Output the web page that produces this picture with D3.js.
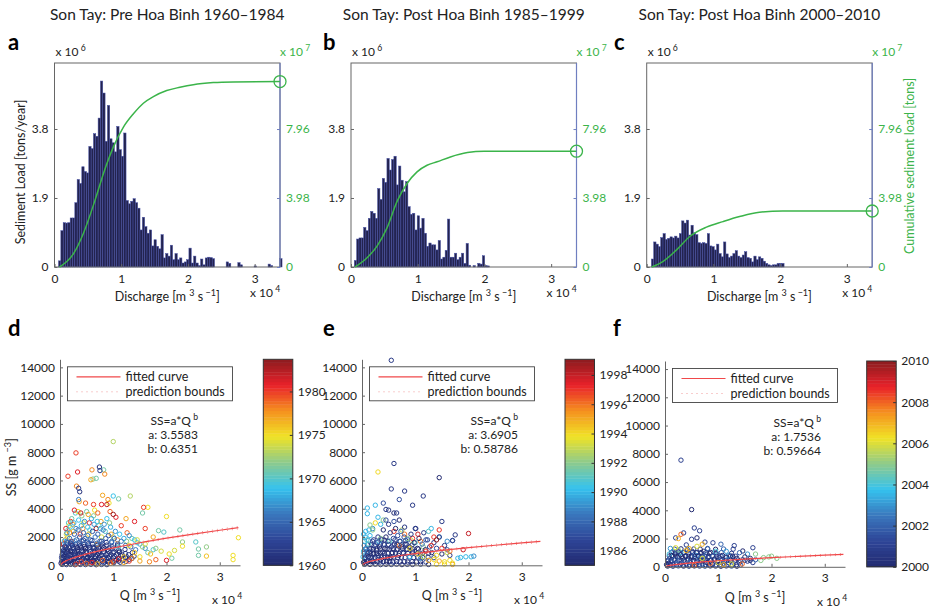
<!DOCTYPE html>
<html>
<head>
<meta charset="utf-8">
<script src="https://cdn.jsdelivr.net/npm/d3@7"></script>
<style>
  body { margin: 0; background: #fff; }
  svg text { font-family: Lato, "Liberation Sans", sans-serif; fill: #222; }
</style>
</head>
<body>
<svg id="chart" width="930" height="611"></svg>
<script>
// ---------- top row: sediment load histograms (x 10^6 tons/year) ----------
const histA = [0.17, 1.0, 1.22, 1.21, 1.22, 1.35, 1.35, 1.77, 2.41, 2.30, 2.76, 2.63, 2.59, 3.32, 3.26, 3.67, 3.6, 4.1, 5.12, 4.79,
  3.46, 4.45, 3.53, 3.42, 3.17, 3.87, 3.23, 3.05, 3.69, 1.83, 1.74, 1.81, 1.88, 1.77, 1.62, 1.02, 1.37, 1.11, 0.93, 1.02,
  0.58, 0.75, 0.57, 0.5, 0.89, 0.25, 0.37, 0.3, 0.6, 0.2, 0.37, 0.2, 0.25, 0.11, 0.14, 0.2, 0.52, 0.11, 0.3, 0.11,
  0.04, 0.22, 0.06, 0.25, 0.27, 0.26, 0.23, 0, 0, 0, 0, 0, 0.14, 0.1, 0, 0, 0, 0.12, 0.06, 0,
  0, 0, 0, 0, 0.03, 0, 0, 0, 0, 0, 0.08, 0.04, 0, 0, 0, 0.23];
const histB = [0.18, 0.77, 0.80, 0.80, 1.09, 1.00, 1.34, 1.53, 1.48, 1.34, 2.16, 1.86, 2.44, 2.33, 2.99, 2.67, 2.96, 3.05, 2.26, 2.78,
  2.39, 2.07, 2.35, 1.66, 1.45, 1.48, 1.02, 1.41, 1.07, 1.34, 0.93, 0.57, 0.66, 0.61, 0.61, 0.47, 0.73, 0.22, 0.27, 0.46,
  1.32, 0.27, 0.27, 0.38, 0.20, 0.27, 0.38, 0.10, 0.65, 0.05, 0, 0.04, 0, 0.10, 0.08, 0.31, 0.04, 0.03];
const histC = [0.22, 0.69, 0.63, 0.56, 0.81, 0.92, 0.76, 0.79, 0.83, 0.80, 0.85, 0.80, 0.92, 1.27, 1.21, 1.29, 0.88, 1.15, 0.94, 0.89,
  0.67, 0.65, 0.67, 0.65, 0.92, 0.58, 0.56, 0.47, 0.63, 0.37, 0.28, 0.69, 0.36, 0.26, 0.30, 0.37, 0.45, 0.30, 0.26, 0.33,
  0.42, 0.26, 0.24, 0.14, 0.30, 0.20, 0.28, 0.24, 0.16, 0.10, 0.06, 0.04, 0.06, 0.06, 0.10, 0.10, 0.10];
const binStarts = [603, 498, 700];   // m3/s
const binWidth = 349;

// cumulative sediment load [Q m3/s, x 10^7 tons]
const cumA = [[750, 0], [2850, 0.77], [4340, 1.95], [6090, 3.87], [7340, 5.40], [8830, 6.93], [10330, 8.07], [11830, 8.84],
  [13320, 9.45], [14820, 9.83], [16820, 10.18], [18800, 10.37], [20800, 10.52], [23800, 10.64], [26800, 10.68], [33800, 10.70]];
const cumB = [[600, 0], [2370, 0.52], [3880, 1.19], [5380, 2.24], [6890, 3.77], [8400, 4.82], [9900, 5.49], [11400, 5.87],
  [12900, 6.07], [14900, 6.35], [17450, 6.60], [19960, 6.68], [33800, 6.68]];
const cumC = [[750, 0], [2480, 0.33], [4480, 0.99], [6460, 1.76], [8950, 2.30], [11430, 2.62], [13930, 2.91], [16900, 3.16],
  [20400, 3.23], [33700, 3.23]];

const topTitles = ["Son Tay: Pre Hoa Binh 1960\u20131984", "Son Tay: Post Hoa Binh 1985\u20131999", "Son Tay: Post Hoa Binh 2000\u20132010"];
const topLetters = ["a", "b", "c"];
const loadTicks = [0, 1.9, 3.8];
const cumTicks = [0, 3.98, 7.96];
const qTicks = [0, 10000, 20000, 30000];

// ---------- bottom row: SS vs Q scatter [Q m3/s, SS g/m3, year] ----------
// dense low part of each cloud
const coreD = [
  [350, 270, 1961], [850, 280, 1961], [1350, 260, 1960], [1900, 290, 1962], [2600, 250, 1961], [3300, 280, 1960], [4000, 270, 1960],
  [4800, 290, 1962], [5600, 260, 1961], [6400, 280, 1961], [7200, 270, 1960], [8000, 290, 1962], [8900, 260, 1961], [9900, 280, 1960],
  [11000, 300, 1960], [12400, 270, 1962],
  [550, 500, 1960], [1050, 480, 1962], [1650, 510, 1961], [2250, 490, 1961], [2900, 500, 1960], [3600, 520, 1962], [4300, 480, 1961],
  [5000, 510, 1960], [5800, 490, 1960], [6600, 500, 1962], [7400, 520, 1961], [8200, 480, 1961], [9100, 500, 1960], [10000, 520, 1962],
  [11100, 490, 1961], [12300, 510, 1960], [13500, 480, 1962],
  [400, 740, 1961], [950, 760, 1960], [1500, 720, 1962], [2100, 750, 1961], [2700, 730, 1960], [3300, 760, 1961], [4000, 740, 1962],
  [4700, 720, 1960], [5500, 750, 1961], [6200, 740, 1961], [7000, 760, 1962], [7800, 730, 1960], [8700, 750, 1961], [9600, 740, 1961],
  [10600, 760, 1962], [11700, 730, 1960], [12900, 750, 1961],
  [800, 980, 1962], [1400, 1000, 1960], [2000, 960, 1961], [2700, 990, 1961], [3400, 970, 1960], [4100, 1000, 1962], [4900, 980, 1961],
  [5700, 960, 1960], [6500, 1000, 1960], [7300, 980, 1962], [8200, 970, 1961], [9100, 990, 1961], [10100, 960, 1960], [11200, 1000, 1962],
  [500, 1230, 1961], [1100, 1250, 1961], [1800, 1220, 1960], [2500, 1260, 1962], [3200, 1230, 1960], [4000, 1250, 1961], [4800, 1220, 1960],
  [5600, 1260, 1961], [6400, 1240, 1962], [7300, 1220, 1961], [8200, 1250, 1960], [9200, 1230, 1962],
  [700, 1500, 1962], [1400, 1480, 1962], [2100, 1520, 1963], [2900, 1490, 1961], [3700, 1510, 1962], [4500, 1480, 1963], [5300, 1530, 1962],
  [6100, 1500, 1961], [7000, 1490, 1961], [7900, 1520, 1963],
  [400, 60, 1961], [1200, 50, 1962], [2000, 70, 1960], [2800, 40, 1961], [3800, 60, 1961], [4800, 50, 1962], [5800, 70, 1960],
  [6800, 40, 1961], [7800, 60, 1962], [8800, 50, 1961]
];
const scatterD = [
  [1500, 2500, 1971], [1600, 3000, 1970], [1400, 2000, 1972], [2200, 3300, 1971], [2900, 3700, 1970], [4100, 3500, 1972],
  [5000, 3800, 1971], [5600, 2500, 1970], [6300, 3500, 1972], [7300, 2800, 1971], [8500, 2400, 1970], [9300, 3000, 1972],
  [10000, 2000, 1971], [12500, 1700, 1972], [13500, 1900, 1971], [14500, 1600, 1970], [1200, 2200, 1975], [1700, 2800, 1974],
  [2500, 2400, 1976], [3400, 3800, 1975], [4400, 3000, 1974], [5400, 2200, 1976], [6500, 3900, 1975], [7800, 2000, 1974],
  [9200, 4400, 1975], [1000, 1800, 1977], [1800, 2300, 1978], [2400, 2900, 1977], [3600, 4500, 1977], [4300, 2600, 1978],
  [5300, 3600, 1977], [7000, 1500, 1978], [7700, 3100, 1977], [9600, 2200, 1977], [10800, 1800, 1978], [12400, 3300, 1977],
  [600, 1500, 1980], [1100, 2600, 1981], [2000, 3100, 1980], [2700, 3900, 1981], [3800, 2200, 1980], [4800, 4400, 1979],
  [5500, 3000, 1981], [6300, 4300, 1980], [7100, 3700, 1979], [7800, 4300, 1981], [9400, 3800, 1979], [10500, 3400, 1981],
  [11500, 2800, 1980], [12600, 2300, 1979], [14000, 3100, 1981], [16000, 2600, 1980], [2100, 1700, 1983], [3900, 3700, 1982],
  [6800, 2600, 1983], [8800, 4300, 1982], [10000, 3600, 1983], [800, 1700, 1968], [1300, 2300, 1967], [1900, 2700, 1969],
  [2600, 3000, 1968], [3000, 2600, 1967], [3500, 3200, 1969], [4000, 2800, 1968], [4600, 3100, 1967], [5200, 2700, 1969],
  [5900, 3300, 1968], [6400, 2900, 1967], [7000, 3100, 1969], [7600, 2600, 1968], [8300, 2900, 1967], [8800, 3300, 1969],
  [9500, 2700, 1968], [10400, 2400, 1967], [11200, 2200, 1969], [12000, 1900, 1968], [13000, 2100, 1967], [14000, 1800, 1969],
  [15000, 1500, 1968], [16000, 1200, 1967],
  [600, 900, 1964], [1000, 1300, 1965], [1400, 1600, 1964], [1800, 1900, 1966], [2300, 1500, 1965], [2700, 2200, 1964],
  [3100, 1800, 1966], [3400, 2500, 1965], [3700, 2000, 1964], [4100, 1700, 1966], [4400, 2300, 1965], [4700, 1900, 1964],
  [5200, 2100, 1966], [5700, 1800, 1965], [6100, 2400, 1964], [6600, 2000, 1966], [7100, 2200, 1965], [7500, 1700, 1964],
  [8100, 2500, 1966], [8600, 1900, 1965], [9100, 2100, 1964], [9700, 1600, 1966], [10200, 1900, 1965], [10800, 1500, 1964],
  [11500, 1700, 1966], [12300, 1400, 1965], [13300, 1300, 1964], [14200, 1100, 1966],
  [200, 150, 1960], [600, 220, 1962], [1100, 120, 1961], [1600, 240, 1961], [2300, 160, 1960], [2900, 230, 1960], [3600, 130, 1961],
  [4400, 210, 1962], [5100, 170, 1960], [5900, 250, 1961], [6600, 140, 1961], [7400, 200, 1960], [8200, 160, 1962], [9100, 230, 1960],
  [10100, 180, 1961], [11300, 210, 1961],
  [400, 380, 1961], [900, 320, 1960], [1400, 420, 1962], [2000, 350, 1960], [2700, 440, 1961], [3300, 310, 1960], [4000, 400, 1961],
  [4700, 360, 1962], [5500, 430, 1961], [6200, 330, 1960], [7000, 410, 1960], [7800, 370, 1962], [8700, 430, 1961], [9600, 340, 1961],
  [10600, 400, 1960], [11800, 360, 1962], [13000, 420, 1961],
  [300, 560, 1962], [800, 640, 1961], [1300, 590, 1960], [1900, 680, 1961], [2500, 540, 1961], [3100, 650, 1962], [3800, 600, 1960],
  [4500, 690, 1962], [5200, 560, 1960], [5900, 660, 1961], [6700, 610, 1960], [7500, 700, 1961], [8400, 570, 1962], [9300, 650, 1961],
  [10300, 620, 1960], [11400, 680, 1960], [12600, 590, 1962], [13900, 640, 1961],
  [500, 830, 1961], [1100, 900, 1960], [1700, 780, 1962], [2300, 920, 1961], [2900, 850, 1962], [3600, 800, 1960], [4300, 930, 1962],
  [5000, 870, 1960], [5800, 790, 1961], [6500, 910, 1961], [7300, 840, 1960], [8100, 940, 1962], [9000, 810, 1961], [10000, 880, 1962],
  [11100, 920, 1960], [12300, 830, 1962], [13600, 900, 1961],
  [700, 1080, 1961], [1300, 1150, 1960], [2000, 1050, 1960], [2600, 1180, 1962], [3300, 1100, 1961], [4000, 1040, 1961], [4800, 1170, 1960],
  [5500, 1090, 1962], [6300, 1190, 1962], [7100, 1060, 1961], [8000, 1140, 1960], [8900, 1100, 1960], [9900, 1170, 1962], [11000, 1050, 1961],
  [12200, 1120, 1961],
  [900, 1340, 1962], [1600, 1280, 1962], [2300, 1420, 1961], [3000, 1300, 1961], [3800, 1390, 1960], [4600, 1330, 1960], [5400, 1440, 1962],
  [6200, 1290, 1961], [7000, 1400, 1962], [7900, 1350, 1960], [8800, 1430, 1961], [9800, 1310, 1962], [10800, 1380, 1960],
  [1200, 1650, 1965], [2000, 1580, 1963], [2800, 1720, 1966], [3600, 1600, 1964], [4400, 1780, 1962], [5200, 1630, 1965], [6000, 1750, 1963],
  [6900, 1560, 1966], [7800, 1700, 1964], [8700, 1620, 1962], [9700, 1680, 1965],
  [11000, 1300, 1970], [15500, 1300, 1972], [16500, 900, 1971], [17500, 1100, 1970], [18500, 2450, 1971], [19500, 2350, 1970],
  [22500, 2500, 1971], [23000, 1650, 1972], [25500, 1650, 1970], [26000, 1150, 1971], [27500, 1300, 1972], [26000, 700, 1971],
  [18000, 1200, 1972], [21000, 500, 1971], [15500, 3700, 1971], [11000, 4700, 1971], [8200, 6750, 1971], [6200, 6100, 1972],
  [6800, 6150, 1971], [10000, 4900, 1969], [10000, 8750, 1973], [13200, 4900, 1973], [16500, 4100, 1975], [20000, 3450, 1975],
  [13000, 1400, 1975], [14000, 900, 1976], [15000, 600, 1975], [16000, 1500, 1974], [17000, 800, 1976], [19000, 1000, 1974],
  [20500, 800, 1975], [21500, 1050, 1974], [23000, 1350, 1975], [27500, 650, 1976], [32500, 700, 1975], [32500, 400, 1975],
  [33500, 1950, 1975], [12000, 600, 1976], [14500, 1800, 1974], [3100, 5600, 1978], [5800, 6050, 1977], [6000, 6750, 1978],
  [8400, 6450, 1978], [8000, 4950, 1977], [9000, 4650, 1978], [13500, 500, 1978], [15000, 300, 1977], [16800, 250, 1978],
  [12000, 200, 1977], [9500, 150, 1978], [7000, 100, 1977], [17500, 2000, 1977], [1500, 6300, 1980], [3000, 7950, 1980],
  [3300, 6600, 1981], [15700, 4100, 1980], [4000, 250, 1980], [6000, 200, 1981], [8000, 350, 1979], [10000, 250, 1980],
  [11000, 450, 1981], [13000, 300, 1980], [18000, 400, 1979], [20000, 350, 1981], [5000, 120, 1979], [3000, 80, 1980],
  [7400, 6950, 1961], [7500, 6700, 1962], [3500, 5450, 1962], [3700, 5200, 1961], [3500, 4650, 1966]
];

const coreE = [
  [400, 250, 1986], [1000, 230, 1985], [1600, 260, 1985], [2200, 240, 1986], [2800, 250, 1985], [3400, 230, 1986], [4000, 260, 1986],
  [4600, 240, 1985], [5200, 250, 1985], [5800, 230, 1986], [6500, 260, 1985], [7200, 240, 1986], [7900, 250, 1986], [8600, 230, 1985],
  [9400, 260, 1986], [10200, 240, 1985], [11000, 250, 1985], [12000, 230, 1986],
  [600, 550, 1985], [1200, 580, 1985], [1800, 540, 1986], [2400, 570, 1985], [3000, 550, 1986], [3600, 580, 1986], [4200, 540, 1985],
  [4800, 570, 1986], [5400, 550, 1985], [6000, 580, 1985], [6700, 540, 1986], [7400, 570, 1985], [8100, 550, 1986], [8900, 580, 1986],
  [9700, 540, 1985], [10500, 570, 1986], [11400, 550, 1985], [12400, 580, 1985], [13500, 540, 1986],
  [400, 850, 1986], [1000, 870, 1985], [1600, 840, 1986], [2200, 860, 1986], [2800, 850, 1985], [3500, 870, 1985], [4200, 840, 1986],
  [4900, 860, 1985], [5600, 850, 1986], [6300, 870, 1986], [7000, 840, 1985], [7800, 860, 1986], [8600, 850, 1985], [9500, 870, 1985],
  [10400, 840, 1986], [11400, 860, 1985], [12500, 850, 1986],
  [700, 1150, 1985], [1400, 1170, 1986], [2100, 1140, 1985], [2800, 1160, 1986], [3500, 1150, 1986], [4300, 1170, 1985], [5100, 1140, 1986],
  [5900, 1160, 1985], [6700, 1150, 1985], [7600, 1170, 1986], [8500, 1140, 1985], [9500, 1160, 1986], [10600, 1150, 1985],
  [1000, 1450, 1986], [1800, 1470, 1985], [2600, 1440, 1987], [3400, 1460, 1986], [4200, 1450, 1985], [5000, 1470, 1986], [5800, 1440, 1987],
  [6600, 1460, 1985], [7500, 1450, 1986], [8400, 1470, 1987], [9400, 1440, 1985],
  [1200, 1750, 1989], [2200, 1800, 1986], [3200, 1700, 1990], [4200, 1780, 1985], [5200, 1720, 1991], [6200, 1800, 1986], [7200, 1700, 1989],
  [8200, 1750, 1986], [9200, 1780, 1993],
  [500, 70, 1986], [1500, 60, 1985], [2500, 80, 1985], [3500, 50, 1986], [4500, 70, 1985], [5500, 60, 1986], [6500, 80, 1986],
  [7500, 50, 1985], [8500, 70, 1986], [9500, 60, 1985], [11000, 80, 1986], [12500, 60, 1985], [14000, 70, 1994], [15500, 90, 1994],
  [17000, 60, 1995], [300, 1000, 1990], [400, 1400, 1989], [600, 2000, 1990], [300, 2200, 1990], [900, 1800, 1991], [200, 600, 1990],
  [1300, 2500, 1990]
];
const scatterE = [
  [1000, 4050, 1990], [1000, 3650, 1990], [2500, 4250, 1990], [3000, 3400, 1990], [500, 1700, 1990], [800, 1200, 1989],
  [1500, 2100, 1990], [2000, 2600, 1989], [1200, 1500, 1991], [700, 2400, 1990], [13000, 2600, 1990], [14500, 2000, 1989],
  [16000, 1700, 1989], [12500, 2400, 1991], [3500, 2900, 1990], [9000, 600, 1990], [11000, 500, 1989],
  [1500, 2850, 1992], [2000, 2500, 1992], [4000, 3200, 1992], [8500, 1900, 1992], [10000, 1600, 1991], [11500, 1300, 1992],
  [3500, 1900, 1992], [7500, 2500, 1993], [2500, 3000, 1994], [8000, 2200, 1996], [9500, 1900, 1997], [6000, 2400, 1997],
  [11000, 1700, 1996], [7000, 1400, 1996],
  [300, 200, 1985], [500, 450, 1986], [700, 150, 1985], [900, 700, 1987], [1100, 350, 1986], [1300, 900, 1985], [1500, 550, 1986],
  [1700, 1200, 1986], [1900, 300, 1985], [2100, 800, 1985], [2300, 1400, 1986], [2500, 500, 1986], [2700, 1050, 1985], [2900, 1600, 1987],
  [3100, 700, 1986], [3300, 1300, 1985], [3500, 400, 1985], [3700, 1800, 1986], [3900, 950, 1985], [4100, 1500, 1987], [4300, 650, 1986],
  [4500, 2000, 1985], [4700, 1150, 1985], [4900, 1700, 1986], [5100, 500, 1985], [5300, 2300, 1986], [5500, 1300, 1986], [5700, 900, 1985],
  [5900, 1900, 1987], [6100, 1500, 1986], [6300, 2600, 1985], [6500, 1100, 1986], [6700, 2100, 1987], [6900, 700, 1985], [7100, 1700, 1986],
  [7300, 2400, 1988], [7500, 1300, 1985], [7700, 900, 1986], [7900, 2000, 1987], [8100, 1500, 1985], [8300, 1100, 1986], [8600, 1800, 1988],
  [8900, 1300, 1985], [9200, 2200, 1986], [9500, 1000, 1985], [9800, 1600, 1985], [10100, 2600, 1986], [10400, 1200, 1985], [10700, 1900, 1985],
  [11000, 800, 1986], [11300, 1500, 1988], [11600, 2300, 1986], [11900, 1100, 1985], [12300, 1800, 1987], [12700, 1300, 1986], [13100, 900, 1985],
  [13500, 1600, 1986], [14000, 1200, 1987], [14500, 2000, 1986], [15000, 800, 1985], [15500, 1400, 1986], [16000, 1100, 1987], [16500, 700, 1986],
  [17000, 1750, 1985], [17500, 2150, 1986], [1000, 1000, 1988], [2000, 1700, 1987], [3000, 2000, 1986], [4000, 2500, 1985], [5000, 2900, 1986],
  [6000, 3100, 1987], [7000, 3200, 1985], [8000, 2700, 1986],
  [5500, 14500, 1986], [6000, 7200, 1986], [5500, 5400, 1986], [8000, 5250, 1986], [7000, 4650, 1987], [11500, 4900, 1986],
  [9500, 4250, 1986], [14500, 6200, 1985], [4000, 4400, 1987], [4500, 3950, 1986], [5000, 3900, 1986], [6000, 3700, 1985],
  [6500, 3700, 1986], [4500, 3200, 1987], [15000, 3100, 1986], [12000, 1800, 1987], [10000, 2600, 1986], [17000, 1750, 1987],
  [19500, 600, 1990], [20500, 600, 1990], [21000, 650, 1989], [18000, 500, 1990], [18500, 550, 1990],
  [3000, 6600, 1994], [9000, 1200, 1994], [10500, 800, 1994], [13500, 400, 1994], [14500, 300, 1995], [15500, 250, 1994],
  [16500, 350, 1994], [12500, 350, 1995], [11500, 600, 1993], [14000, 700, 1994], [16000, 900, 1993], [17000, 150, 1994],
  [14500, 2500, 1997], [13500, 2000, 1997], [15000, 1200, 1997], [13000, 1400, 1997], [16500, 1000, 1996], [12000, 1000, 1997],
  [20000, 2250, 1998], [19000, 1100, 1998], [14000, 1800, 1999], [10500, 2200, 1998]
];

const coreF = [
  [400, 150, 2001], [1000, 130, 2000], [1600, 160, 2002], [2200, 140, 2001], [2800, 150, 2000], [3400, 130, 2001], [4000, 160, 2002],
  [4600, 140, 2000], [5200, 150, 2001], [5800, 130, 2000], [6400, 160, 2001], [7000, 140, 2002], [7600, 150, 2000], [8200, 130, 2001],
  [8900, 160, 2000], [9600, 140, 2001], [10300, 150, 2002], [11000, 130, 2000], [11800, 160, 2001], [12600, 140, 2000], [13400, 150, 2001],
  [14200, 130, 2002],
  [600, 470, 2000], [1200, 450, 2001], [1800, 480, 2000], [2400, 440, 2002], [3000, 460, 2001], [3600, 480, 2000], [4200, 440, 2001],
  [4800, 470, 2002], [5400, 450, 2000], [6000, 480, 2001], [6600, 440, 2000], [7200, 460, 2001], [7800, 470, 2002], [8500, 450, 2000],
  [9200, 480, 2001], [9900, 440, 2000], [10700, 460, 2001], [11500, 470, 2002], [12300, 450, 2000], [13200, 480, 2001], [14100, 440, 2000],
  [15000, 460, 2001], [16000, 450, 2000],
  [800, 760, 2001], [1400, 740, 2000], [2000, 770, 2002], [2600, 750, 2001], [3200, 740, 2000], [3800, 770, 2001], [4400, 750, 2002],
  [5000, 760, 2000], [5600, 740, 2001], [6200, 770, 2000], [6800, 750, 2001], [7500, 760, 2002], [8200, 740, 2000], [8900, 770, 2001],
  [9700, 750, 2000], [10500, 760, 2001], [11400, 740, 2002], [12300, 770, 2000], [13300, 750, 2001],
  [1200, 1000, 2001], [2000, 1020, 2000], [2800, 990, 2002], [3600, 1010, 2001], [4400, 1000, 2000], [5200, 1020, 2001], [6000, 990, 2002],
  [6800, 1010, 2000], [7700, 1000, 2001], [8600, 1020, 2000], [9600, 990, 2001], [10600, 1010, 2002],
  [1800, 1250, 2001], [3000, 1270, 2000], [4200, 1240, 2002], [5400, 1260, 2001], [6600, 1250, 2000], [8000, 1270, 2001], [9500, 1240, 2000],
  [11000, 1260, 2002], [12800, 1250, 2001], [14600, 1120, 2000],
  [500, 50, 2000], [1500, 40, 2001], [2500, 60, 2002], [3500, 50, 2000], [4500, 40, 2001], [5500, 60, 2000], [6500, 50, 2001],
  [7500, 40, 2002], [8500, 60, 2000], [9500, 50, 2001], [10500, 40, 2000], [11500, 60, 2001], [12500, 50, 2002], [13500, 40, 2000]
];
const scatterF = [
  [1000, 1300, 2003], [800, 900, 2004], [1500, 1100, 2003], [11500, 1100, 2003], [3000, 1000, 2004], [6000, 800, 2003],
  [9500, 1100, 2004], [12000, 800, 2003], [15500, 900, 2003], [2500, 1200, 2005], [2000, 1350, 2006], [6000, 1450, 2006],
  [300, 150, 2000], [500, 400, 2001], [700, 250, 2000], [900, 600, 2002], [1100, 350, 2001], [1300, 800, 2000], [1500, 200, 2001],
  [1700, 500, 2002], [1900, 900, 2000], [2100, 300, 2001], [2300, 700, 2000], [2500, 1050, 2001], [2700, 450, 2002], [2900, 850, 2000],
  [3100, 250, 2001], [3300, 600, 2000], [3500, 1000, 2001], [3700, 400, 2002], [3900, 750, 2000], [4100, 1150, 2001], [4300, 550, 2000],
  [4500, 900, 2001], [4700, 300, 2002], [4900, 700, 2000], [5100, 1100, 2001], [5300, 450, 2000], [5500, 850, 2002], [5700, 600, 2001],
  [5900, 1000, 2000], [6100, 350, 2001], [6300, 750, 2000], [6500, 550, 2002], [6700, 950, 2001], [6900, 400, 2000], [7100, 700, 2001],
  [7300, 1100, 2000], [7500, 500, 2001], [7700, 850, 2002], [7900, 300, 2000], [8100, 650, 2001], [8400, 950, 2000], [8700, 450, 2001],
  [9000, 750, 2002], [9300, 550, 2000], [9600, 900, 2001], [9900, 350, 2000], [10200, 650, 2001], [10500, 500, 2002], [10800, 800, 2000],
  [11100, 400, 2001], [11500, 650, 2000], [11900, 300, 2001], [12300, 550, 2002], [12700, 750, 2000], [13100, 400, 2001], [13500, 600, 2000],
  [14000, 300, 2001], [14500, 500, 2002], [15000, 700, 2000], [15500, 400, 2001], [16000, 600, 2000], [16500, 300, 2001], [17000, 500, 2002],
  [3000, 7550, 2001], [5000, 4050, 2000], [5500, 2750, 2001], [6500, 2550, 2001], [3500, 2400, 2001], [2000, 2050, 2001],
  [5000, 1950, 2001], [6000, 2050, 2000], [9000, 1700, 2001], [10500, 1600, 2002], [13000, 1500, 2001], [16500, 1350, 2001],
  [7500, 1750, 2001], [12500, 950, 2001], [14000, 1000, 2002], [4000, 1550, 2001], [8000, 1300, 2002],
  [17000, 900, 2005], [18500, 650, 2005], [19500, 700, 2005], [20000, 750, 2005], [18000, 450, 2005], [21000, 600, 2005],
  [7000, 600, 2006], [10000, 300, 2006], [12500, 200, 2006],
  [3000, 2300, 2008], [2500, 2000, 2007], [7000, 1600, 2007], [4500, 1300, 2007], [4000, 1150, 2007], [8500, 250, 2008],
  [11000, 150, 2007], [5500, 100, 2008], [14500, 200, 2008]
];

// fitted curve SS = a*Q^b and prediction bounds, read along Q
const fitQ = [0, 500, 1000, 2000, 4000, 6000, 8000, 10000, 15000, 20000, 25000, 30000, 33500];
const fitD = [0, 184, 286, 444, 690, 893, 1072, 1234, 1597, 1918, 2208, 2480, 2660];
const fitE = [0, 142, 214, 322, 484, 614, 727, 829, 1052, 1246, 1420, 1581, 1687];
const fitF = [0, 72, 108, 163, 247, 315, 374, 427, 544, 646, 738, 822, 879];
const hiD = [0, 230, 335, 495, 745, 950, 1130, 1295, 1665, 1990, 2285, 2565, 2750];
const loD = [0, 140, 240, 395, 635, 838, 1015, 1175, 1530, 1848, 2133, 2398, 2572];
const hiE = [0, 190, 265, 375, 540, 672, 787, 890, 1118, 1316, 1494, 1660, 1770];
const loE = [0, 95, 165, 270, 430, 558, 668, 770, 988, 1178, 1348, 1504, 1606];
const hiF = [0, 110, 148, 205, 292, 362, 423, 478, 598, 702, 797, 884, 944];
const loF = [0, 36, 70, 123, 204, 270, 327, 378, 492, 592, 681, 762, 816];
const fitA = ["3.5583", "3.6905", "1.7536"];
const fitB = ["0.6351", "0.58786", "0.59664"];
const ssTicks = [0, 2000, 4000, 6000, 8000, 10000, 12000, 14000];
const yearDomains = [[1960, 1983.7], [1985, 1999.07], [2000, 2010]];
const yearTicks = [[1960, 1965, 1970, 1975, 1980], [1986, 1988, 1990, 1992, 1994, 1996, 1998], [2000, 2002, 2004, 2006, 2008, 2010]];
const bottomLetters = ["d", "e", "f"];

// muted jet colormap
const jetStops = ["#222a70", "#2e4597", "#3a77bd", "#35c2ee", "#8dca8c", "#f0e326", "#f5911f", "#e9212a", "#8b1c1f"];
const jet = d3.scaleLinear().domain(d3.range(9).map(i => i / 8)).range(jetStops).clamp(true);

const GREEN = "#3bb44a";
const BLUE_AX = "#6f7fc0";
const AX = "#666";
const svg = d3.select("#chart");

function supText(t, parts) {
  // parts: [text, isSup]
  let prevSup = false;
  parts.forEach(([s, sup]) => {
    const ts = t.append("tspan").text(s);
    if (sup) { ts.attr("font-size", "0.72em").attr("dy", -5); prevSup = true; }
    else if (prevSup) { ts.attr("dy", 5); prevSup = false; }
  });
  return t;
}

// ---------- top panels ----------
const topX0 = [54.5, 351, 646.7];
const topW = 225.5, topY0 = 63, topY1 = 267;
const hists = [histA, histB, histC];
const cums = [cumA, cumB, cumC];

hists.forEach((hist, i) => {
  const x0 = topX0[i];
  const g = svg.append("g");
  const x = d3.scaleLinear().domain([0, 33800]).range([x0, x0 + topW]);
  const yL = d3.scaleLinear().domain([0, 5.617]).range([topY1, topY0]);
  const yR = d3.scaleLinear().domain([0, 11.77]).range([topY1, topY0]);

  g.append("text").attr("x", x0 + topW / 2).attr("y", 20).attr("text-anchor", "middle")
    .attr("font-size", 15.5).text(topTitles[i]);
  g.append("text").attr("x", [8, 323, 614][i]).attr("y", 50).attr("font-size", 22).attr("font-weight", "bold")
    .style("fill", "#000").text(topLetters[i]);

  // bars
  g.append("g").selectAll("rect")
    .data(hist.map((v, j) => ({ q: binStarts[i] + j * binWidth, v })).filter(d => d.v > 0))
    .join("rect")
    .attr("x", d => x(d.q)).attr("width", x(binWidth) - x(0))
    .attr("y", d => yL(d.v)).attr("height", d => yL(0) - yL(d.v))
    .attr("fill", "#23234f").attr("stroke", "#4650a6").attr("stroke-width", 0.5);

  // box
  g.append("rect").attr("x", x0).attr("y", topY0).attr("width", topW).attr("height", topY1 - topY0)
    .attr("fill", "none").attr("stroke", AX).attr("stroke-width", 1);
  g.append("line").attr("x1", x0 + topW).attr("x2", x0 + topW).attr("y1", topY0).attr("y2", topY1)
    .attr("stroke", BLUE_AX).attr("stroke-width", 1.2);

  // axes
  const ax = g.append("g").attr("transform", `translate(0,${topY1})`)
    .call(d3.axisBottom(x).tickValues(qTicks).tickFormat(d => d / 1e4).tickSizeInner(-3).tickSizeOuter(0).tickPadding(7));
  const ayl = g.append("g").attr("transform", `translate(${x0},0)`)
    .call(d3.axisLeft(yL).tickValues(loadTicks).tickFormat(d => d).tickSizeInner(-3).tickSizeOuter(0).tickPadding(6));
  const ayr = g.append("g").attr("transform", `translate(${x0 + topW},0)`)
    .call(d3.axisRight(yR).tickValues(cumTicks).tickFormat(d => d).tickSizeInner(-3).tickSizeOuter(0).tickPadding(6));
  [ax, ayl, ayr].forEach(a => {
    a.select(".domain").remove();
    a.selectAll("text").attr("font-size", 12).style("font-family", "Lato, sans-serif");
  });
  ax.selectAll("line").attr("stroke", AX);
  ayl.selectAll("line").attr("stroke", AX);
  ax.selectAll("text").style("fill", "#222");
  ayl.selectAll("text").style("fill", "#222");
  ayr.selectAll("line").attr("stroke", BLUE_AX);
  ayr.selectAll("text").style("fill", GREEN);

  // cumulative line
  const cum = cums[i];
  g.append("path").datum(cum)
    .attr("d", d3.line().x(d => x(d[0])).y(d => yR(d[1])).curve(d3.curveMonotoneX))
    .attr("fill", "none").attr("stroke", GREEN).attr("stroke-width", 1.5);
  const last = cum[cum.length - 1];
  g.append("circle").attr("cx", x0 + topW).attr("cy", yR(last[1])).attr("r", 6)
    .attr("fill", "none").attr("stroke", GREEN).attr("stroke-width", 1.3);

  // exponent labels
  supText(g.append("text").attr("x", x0 + 1).attr("y", 56).attr("font-size", 12), [["x 10", false], [" 6", true]]);
  supText(g.append("text").attr("x", x0 + topW).attr("y", 56).attr("font-size", 12).style("fill", GREEN),
    [["x 10", false], [" 7", true]]).selectAll("tspan").style("fill", GREEN);
  supText(g.append("text").attr("x", x0 + topW - 30).attr("y", 297).attr("font-size", 12), [["x 10", false], [" 4", true]]);
  supText(g.append("text").attr("x", x0 + topW / 2).attr("y", 301).attr("text-anchor", "middle").attr("font-size", 12.5),
    [["Discharge [m  ", false], ["3", true], [" s", false], [" \u22121", true], ["]", false]]);

  if (i === 0) {
    g.append("text").attr("transform", "translate(25,172) rotate(-90)").attr("text-anchor", "middle")
      .attr("font-size", 12.5).text("Sediment Load [tons/year]");
  }
  if (i === 2) {
    g.append("text").attr("transform", "translate(914,166) rotate(-90)").attr("text-anchor", "middle")
      .attr("font-size", 12.5).style("fill", GREEN).text("Cumulative sediment load  [tons]");
  }
});

// ---------- bottom panels ----------
const botX0 = [60, 362, 665];
const botW = 180;
const botTop = [359.3, 359.3, 361];
const botBot = [565.3, 565.3, 566.8];
const cbX0 = [263.3, 565, 866.7];
const cbW = 29.5;
const cores = [coreD, coreE, coreF];
const scatters = [scatterD, scatterE, scatterF];
const fits = [fitD, fitE, fitF];
const his = [hiD, hiE, hiF];
const los = [loD, loE, loF];
const annoRight = [198, 518, 821];

scatters.forEach((pts, i) => {
  const x0 = botX0[i], yt = botTop[i], yb = botBot[i];
  const g = svg.append("g");
  const x = d3.scaleLinear().domain([0, 33800]).range([x0, x0 + botW]);
  const y = d3.scaleLinear().domain([0, 14570]).range([yb, yt]);
  const yr = d3.scaleLinear().domain(yearDomains[i]).range([0, 1]);

  g.append("text").attr("x", [8, 323, 613][i]).attr("y", 336).attr("font-size", 22).attr("font-weight", "bold")
    .style("fill", "#000").text(bottomLetters[i]);

  // scatter: dense core first, then the rest
  g.append("g").selectAll("circle").data(cores[i].concat(pts)).join("circle")
    .attr("cx", d => x(d[0])).attr("cy", d => y(d[1])).attr("r", 2.2)
    .attr("fill", "none").attr("stroke", d => jet(yr(d[2]))).attr("stroke-width", 1);

  // fit + bounds
  const fit = fits[i].map((v, j) => [fitQ[j], v]);
  const line = d3.line().x(d => x(d[0])).y(d => y(d[1]));
  [his[i], los[i]].forEach(b => {
    g.append("path").datum(b.map((v, j) => [fitQ[j], v]).filter(d => d[0] >= 1000)).attr("d", line)
      .attr("fill", "none").attr("stroke", "#f19a9a").attr("stroke-width", 1).attr("stroke-dasharray", "1,4");
  });
  g.append("path").datum(fit).attr("d", line.curve(d3.curveMonotoneX))
    .attr("fill", "none").attr("stroke", "#f0484a").attr("stroke-width", 1.2);

  // axes
  const ax = g.append("g").attr("transform", `translate(0,${yb})`)
    .call(d3.axisBottom(x).tickValues(qTicks).tickFormat(d => d / 1e4).tickSizeInner(-3).tickSizeOuter(0).tickPadding(7));
  const ay = g.append("g").attr("transform", `translate(${x0},0)`)
    .call(d3.axisLeft(y).tickValues(ssTicks).tickFormat(d => d).tickSizeInner(-3).tickSizeOuter(0).tickPadding(5));
  [ax, ay].forEach(a => {
    a.select(".domain").attr("stroke", AX);
    a.selectAll("line").attr("stroke", AX);
    a.selectAll("text").attr("font-size", 12).style("font-family", "Lato, sans-serif").style("fill", "#222");
  });

  // legend
  const lx = x0 + 7.5, ly = yt + 7.5, lw = botW - 15, lh = 34;
  g.append("rect").attr("x", lx).attr("y", ly).attr("width", lw).attr("height", lh)
    .attr("fill", "#fff").attr("stroke", "#444").attr("stroke-width", 0.9);
  g.append("line").attr("x1", lx + 9).attr("x2", lx + 53).attr("y1", ly + 10).attr("y2", ly + 10)
    .attr("stroke", "#f0484a").attr("stroke-width", 1.2);
  g.append("line").attr("x1", lx + 9).attr("x2", lx + 53).attr("y1", ly + 25).attr("y2", ly + 25)
    .attr("stroke", "#f19a9a").attr("stroke-width", 1).attr("stroke-dasharray", "1,4");
  g.append("text").attr("x", lx + 58).attr("y", ly + 14).attr("font-size", 12.5).text("fitted curve");
  g.append("text").attr("x", lx + 58).attr("y", ly + 29).attr("font-size", 12.5).text("prediction bounds");

  // annotation
  const ar = annoRight[i];
  supText(g.append("text").attr("x", ar).attr("y", yt + 66).attr("text-anchor", "end").attr("font-size", 12),
    [["SS=a*Q", false], ["  b", true]]);
  g.append("text").attr("x", ar).attr("y", yt + 80).attr("text-anchor", "end").attr("font-size", 12).text("a: " + fitA[i]);
  g.append("text").attr("x", ar).attr("y", yt + 93.5).attr("text-anchor", "end").attr("font-size", 12).text("b: " + fitB[i]);

  // axis labels
  supText(g.append("text").attr("x", x0 + 90).attr("y", yb + 35).attr("text-anchor", "middle").attr("font-size", 12.5),
    [["Q [m ", false], ["3", true], [" s", false], [" \u22121", true], ["]", false]]);
  supText(g.append("text").attr("x", x0 + botW - 28).attr("y", yb + 39).attr("font-size", 12), [["x 10", false], [" 4", true]]);
  if (i === 0) {
    supText(g.append("text").attr("transform", `translate(16,${(yt + yb) / 2 + 5}) rotate(-90)`).attr("text-anchor", "middle")
      .attr("font-size", 12.5), [["SS [g m ", false], [" \u22123", true], ["]", false]]);
  }

  // colorbar
  const cx0 = cbX0[i];
  const yc = d3.scaleLinear().domain(yearDomains[i]).range([yb, yt]);
  const steps = d3.range(64);
  const dy = (yb - yt) / 64;
  g.append("g").selectAll("rect").data(steps).join("rect")
    .attr("x", cx0).attr("width", cbW)
    .attr("y", k => yb - (k + 1) * dy).attr("height", dy + 0.4)
    .attr("fill", k => jet((k + 0.5) / 64));
  g.append("rect").attr("x", cx0).attr("y", yt).attr("width", cbW).attr("height", yb - yt)
    .attr("fill", "none").attr("stroke", "#333").attr("stroke-width", 1);
  const ac = g.append("g").attr("transform", `translate(${cx0 + cbW},0)`)
    .call(d3.axisRight(yc).tickValues(yearTicks[i]).tickFormat(d => d).tickSizeInner(-3).tickSizeOuter(0).tickPadding(5));
  ac.select(".domain").remove();
  ac.selectAll("line").attr("stroke", "#333");
  ac.selectAll("text").attr("font-size", 12).style("font-family", "Lato, sans-serif").style("fill", "#222");
});
</script>
</body>
</html>
